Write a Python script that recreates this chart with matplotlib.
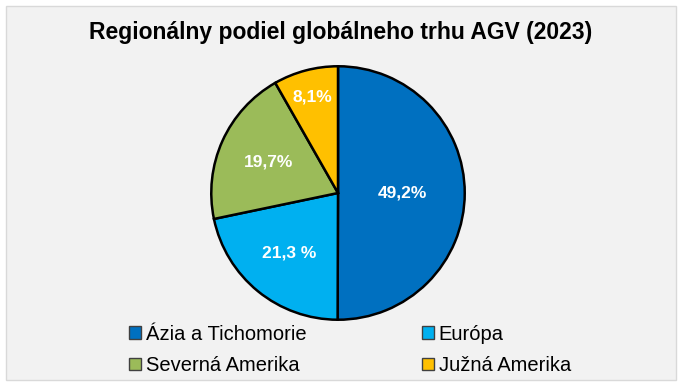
import numpy as np
import matplotlib.pyplot as plt
from matplotlib.patches import Rectangle

# data
regions = ["Ázia a Tichomorie", "Európa", "Severná Amerika", "Južná Amerika"]
shares = [49.2, 21.3, 19.7, 8.1]
label_texts = ["49,2%", "21,3 %", "19,7%", "8,1%"]
colors = ["#0070C0", "#00B0F0", "#9BBB59", "#FFC000"]

plt.rcParams['font.family'] = ['Liberation Sans', 'DejaVu Sans']

fig = plt.figure(figsize=(6.82, 3.89), dpi=100)
fig.patch.set_facecolor("white")

# chart area frame
fig.patches.append(Rectangle((6 / 682, 9 / 389), 670 / 682, 374 / 389,
                             transform=fig.transFigure, facecolor="#F2F2F2",
                             edgecolor="#D9D9D9", linewidth=1, zorder=-10))

# pie axes: center (338, 193), radius 128 px
r_px = 128
cx, cy = 338, 193
ax = fig.add_axes([(cx - r_px) / 682, 1 - (cy + r_px) / 389, 2 * r_px / 682, 2 * r_px / 389])
ax.set_facecolor("none")
ax.set_zorder(1)

wedges, _ = ax.pie(shares, colors=colors, startangle=90, counterclock=False,
                   wedgeprops=dict(edgecolor="black", linewidth=1.8))
ax.set_aspect("equal")
ax.set_xlim(-1.01, 1.01)
ax.set_ylim(-1.01, 1.01)

# label placement per slice (distance from center as fraction of radius)
dists = [0.51, 0.61, 0.6, 0.78]
for w, txt, d in zip(wedges, label_texts, dists):
    ang = np.deg2rad((w.theta1 + w.theta2) / 2)
    ax.text(d * np.cos(ang), d * np.sin(ang), txt, ha="center", va="center",
            color="white", fontsize=12.5, fontweight="bold")

fig.text(0.5, 1 - 33 / 389, "Regionálny podiel globálneho trhu AGV (2023)",
         ha="center", va="center", fontsize=16.5, fontweight="bold")

# legend, rows: Ázia / Európa, Severná / Južná
order = [0, 2, 1, 3]
leg = fig.legend([wedges[i] for i in order], [regions[i] for i in order], ncol=2,
                 loc="center", bbox_to_anchor=(0.5 + 9 / 682, 1 - 350 / 389), frameon=False,
                 fontsize=14.5, handlelength=0.6, handleheight=0.6,
                 handletextpad=0.25, columnspacing=5.7, labelspacing=0.6)
for h in leg.legend_handles:
    h.set_edgecolor("#404040")
    h.set_linewidth(1.0)

fig.savefig("out.png", dpi=100, facecolor=fig.get_facecolor())
